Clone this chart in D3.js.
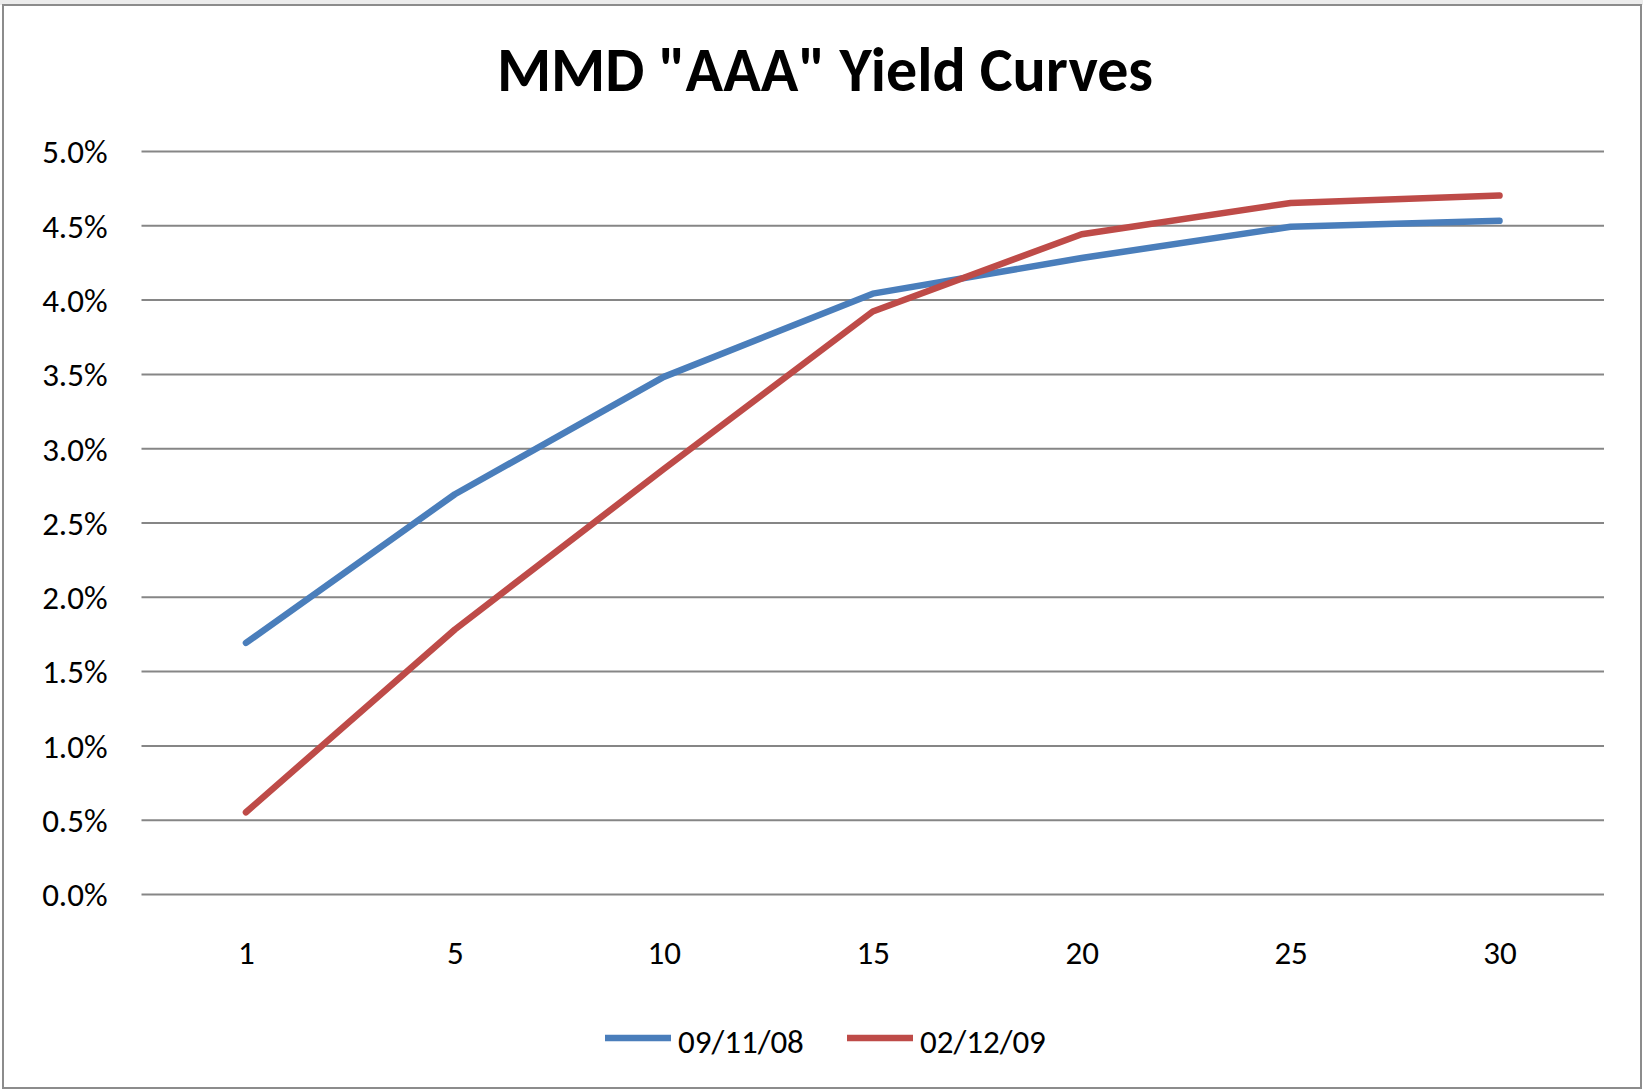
<!DOCTYPE html>
<html><head><meta charset="utf-8">
<script src="https://cdn.jsdelivr.net/npm/d3@7"></script>
<style>body{margin:0;background:#fff}svg{display:block}</style>
</head><body>
<svg id="c" width="1643" height="1091"></svg>
<script>
const categories = ["1","5","10","15","20","25","30"];
const seriesNames = ["09/11/08","02/12/09"];
const series0911 = [1.69,2.69,3.48,4.04,4.28,4.49,4.53];
const series0212 = [0.55,1.78,2.86,3.92,4.44,4.65,4.70];
const yTicks = [0,0.5,1,1.5,2,2.5,3,3.5,4,4.5,5];
const colors = ["#4A7EBB","#BE4B48"];

const svg = d3.select("#c");
const font = "Carlito, Lato, sans-serif";
svg.append("rect").attr("x",0).attr("y",0).attr("width",1643).attr("height",5).attr("fill","#ececec");
svg.append("rect").attr("x",3).attr("y",5).attr("width",1638).attr("height",1083)
  .attr("fill","#fff").attr("stroke","#8c8c8c").attr("stroke-width",2);

const L=141.5, R=1604, T=151, B=894;
const x = d3.scalePoint().domain(categories).range([L,R]).padding(0.5);
const y = d3.scaleLinear().domain([0,5]).range([B,T]);

svg.append("text").attr("x",825).attr("y",91).attr("text-anchor","middle")
  .attr("font-family",font).attr("font-weight","bold").attr("font-size",62)
  .text('MMD "AAA" Yield Curves');

const yAxis = svg.append("g").attr("transform",`translate(${L},0)`)
  .call(d3.axisLeft(y).tickValues(yTicks).tickSize(-(R-L)).tickPadding(34).tickFormat(d=>d.toFixed(1)+"%"));
yAxis.select(".domain").remove();
yAxis.selectAll(".tick line").attr("stroke","#868686").attr("stroke-width",2);
yAxis.selectAll(".tick text").attr("font-family",font).attr("font-size",33).attr("fill","#000").attr("dy","0.36em");

const xAxis = svg.append("g").attr("transform",`translate(0,${B})`)
  .call(d3.axisBottom(x).tickSize(0).tickPadding(47));
xAxis.select(".domain").remove();
xAxis.selectAll(".tick text").attr("font-family",font).attr("font-size",33).attr("fill","#000");

const line = d3.line().x((d,i)=>x(categories[i])).y(d=>y(d));
[series0911, series0212].forEach((s,i)=>{
  svg.append("path").datum(s).attr("d",line).attr("fill","none")
    .attr("stroke",colors[i]).attr("stroke-width",6.5).attr("stroke-linecap","round").attr("stroke-linejoin","round");
});

const legendX = [605, 847];
seriesNames.forEach((n,i)=>{
  svg.append("line").attr("x1",legendX[i]).attr("x2",legendX[i]+66).attr("y1",1038).attr("y2",1038)
    .attr("stroke",colors[i]).attr("stroke-width",6.5);
  svg.append("text").attr("x",legendX[i]+73).attr("y",1053).attr("font-family",font).attr("font-size",33)
    .text(n);
});
</script>
</body></html>
